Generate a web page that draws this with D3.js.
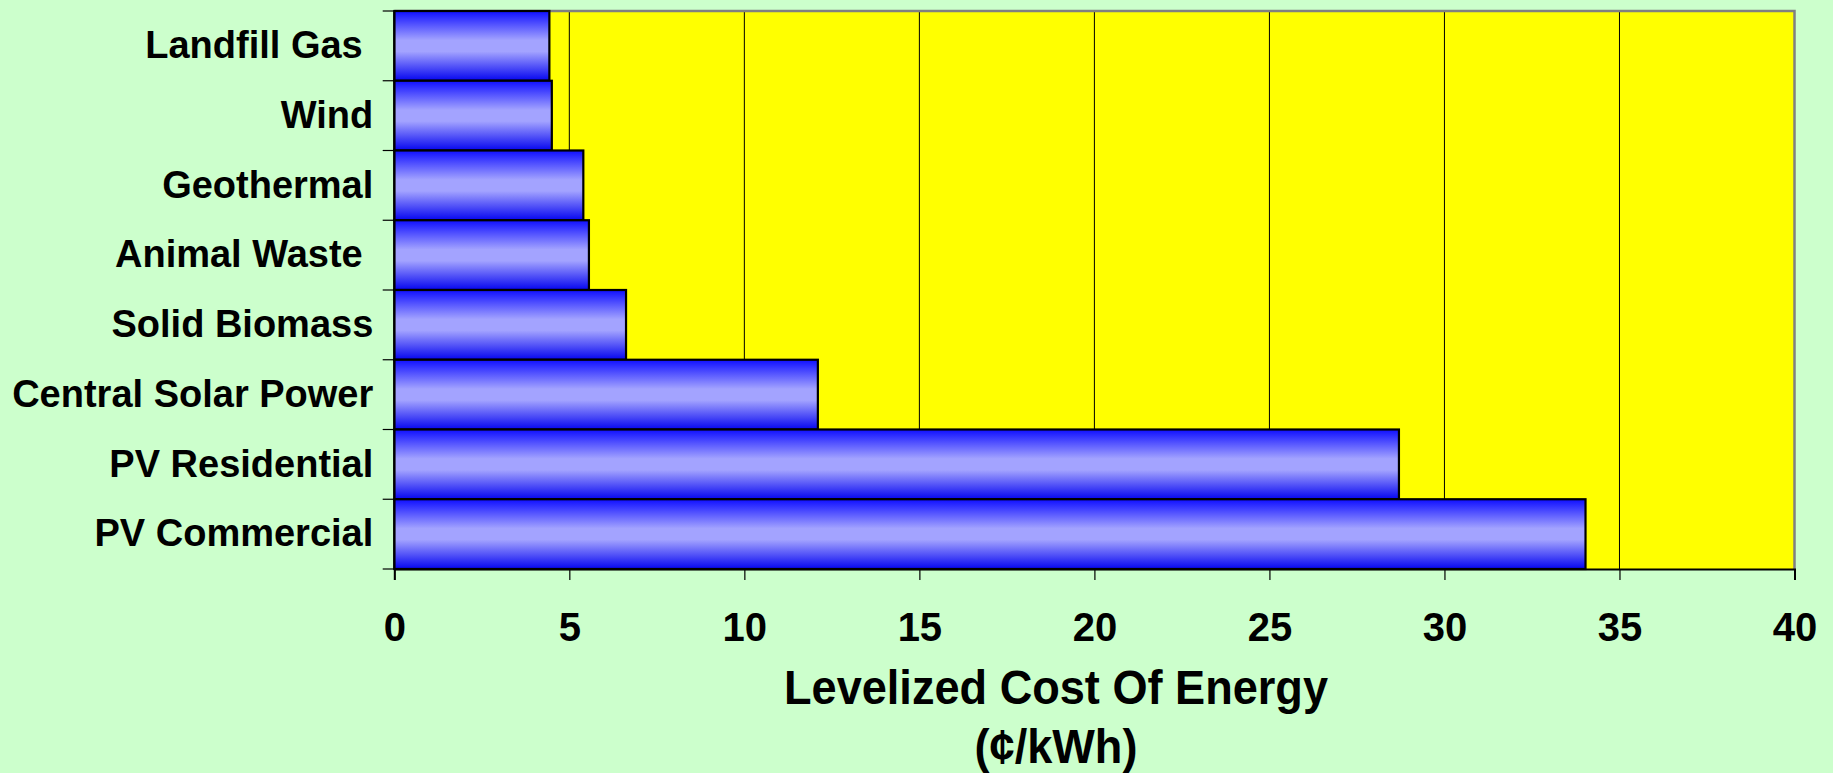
<!DOCTYPE html>
<html>
<head>
<meta charset="utf-8">
<script src="https://cdn.jsdelivr.net/npm/d3@7/dist/d3.min.js"></script>
<style>
  html, body { margin: 0; padding: 0; background: #ccffcc; }
  svg { display: block; }
  text { font-family: "Liberation Sans", Arial, sans-serif; font-weight: bold; fill: #000; }
</style>
</head>
<body>
<svg id="chart" width="1833" height="773"></svg>
<script>
// Energy technologies, top to bottom
const categories = ["Landfill Gas ", "Wind", "Geothermal", "Animal Waste ", "Solid Biomass",
                    "Central Solar Power", "PV Residential", "PV Commercial"];
// Levelized cost of energy, cents per kWh
const costs = [4.43, 4.5, 5.4, 5.56, 6.62, 12.1, 28.7, 34.03];
// Value axis ticks
const xTicks = [0, 5, 10, 15, 20, 25, 30, 35, 40];
const titleLines = ["Levelized Cost Of Energy", "(¢/kWh)"];

const W = 1833, H = 773;
const margin = { top: 11, right: 38.5, bottom: 204, left: 394.3 };
const pw = W - margin.left - margin.right;
const ph = H - margin.top - margin.bottom;

const svg = d3.select("#chart");

const defs = svg.append("defs");
const grad = defs.append("linearGradient")
  .attr("id", "barFill").attr("x1", 0).attr("y1", 0).attr("x2", 0).attr("y2", 1);
[[0, "#0f0fff"], [0.42, "#a3a3ff"], [0.58, "#a3a3ff"], [1, "#0505f0"]].forEach(([o, c]) =>
  grad.append("stop").attr("offset", o).attr("stop-color", c));

const g = svg.append("g").attr("transform", `translate(${margin.left},${margin.top})`);

const x = d3.scaleLinear().domain([0, 40]).range([0, pw]);
const y = d3.scaleBand().domain(categories).range([0, ph]).padding(0);

// plot area
g.append("rect").attr("x", 0).attr("y", 0).attr("width", pw).attr("height", ph)
  .attr("fill", "#ffff00");

// vertical gridlines
g.append("g").selectAll("line")
  .data(xTicks.filter(t => t > 0 && t < 40))
  .join("line")
  .attr("x1", d => x(d)).attr("x2", d => x(d))
  .attr("y1", 0).attr("y2", ph)
  .attr("stroke", "#000").attr("stroke-width", 1);

// plot border (top and right)
g.append("path")
  .attr("d", `M0,0H${pw}V${ph}`)
  .attr("fill", "none").attr("stroke", "#808080").attr("stroke-width", 2.5);

// bars
g.append("g").selectAll("rect")
  .data(categories.map((c, i) => ({ c, v: costs[i] })))
  .join("rect")
  .attr("x", 0)
  .attr("y", d => y(d.c))
  .attr("width", d => x(d.v))
  .attr("height", y.bandwidth())
  .attr("fill", "url(#barFill)")
  .attr("stroke", "#000").attr("stroke-width", 2.2);

// category axis
const yAxis = g.append("g")
  .call(d3.axisLeft(y).tickSize(0).tickPadding(21));
yAxis.select(".domain").remove();
yAxis.selectAll("text")
  .attr("font-size", 38)
  .attr("font-family", "'Liberation Sans', Arial, sans-serif")
  .attr("font-weight", "bold")
  .style("white-space", "pre")
  .attr("dy", "0.32em");

// category tick marks sit at band boundaries
const bounds = categories.map(c => y(c)).concat([ph]);
g.append("g").selectAll("line").data(bounds).join("line")
  .attr("x1", -11.6).attr("x2", 0)
  .attr("y1", d => d).attr("y2", d => d)
  .attr("stroke", "#000").attr("stroke-width", 1.2);

g.append("line").attr("x1", 0).attr("x2", 0).attr("y1", 0).attr("y2", ph)
  .attr("stroke", "#000").attr("stroke-width", 2);

// value axis
const xAxis = g.append("g").attr("transform", `translate(0,${ph})`)
  .call(d3.axisBottom(x).tickValues(xTicks).tickSize(11).tickPadding(33));
xAxis.select(".domain").attr("stroke", "#000").attr("stroke-width", 2);
xAxis.selectAll(".tick line").attr("stroke", "#000").attr("stroke-width", 1.2);
xAxis.selectAll("text")
  .attr("font-size", 40)
  .attr("font-family", "'Liberation Sans', Arial, sans-serif")
  .attr("font-weight", "bold");

// axis title, set in a slightly condensed face
svg.append("g").attr("transform", "translate(1056,0) scale(0.94,1)")
  .selectAll("text").data(titleLines).join("text")
  .attr("x", 0)
  .attr("y", (d, i) => 704 + i * 59)
  .attr("text-anchor", "middle")
  .attr("font-size", 48)
  .text(d => d);
</script>
</body>
</html>
